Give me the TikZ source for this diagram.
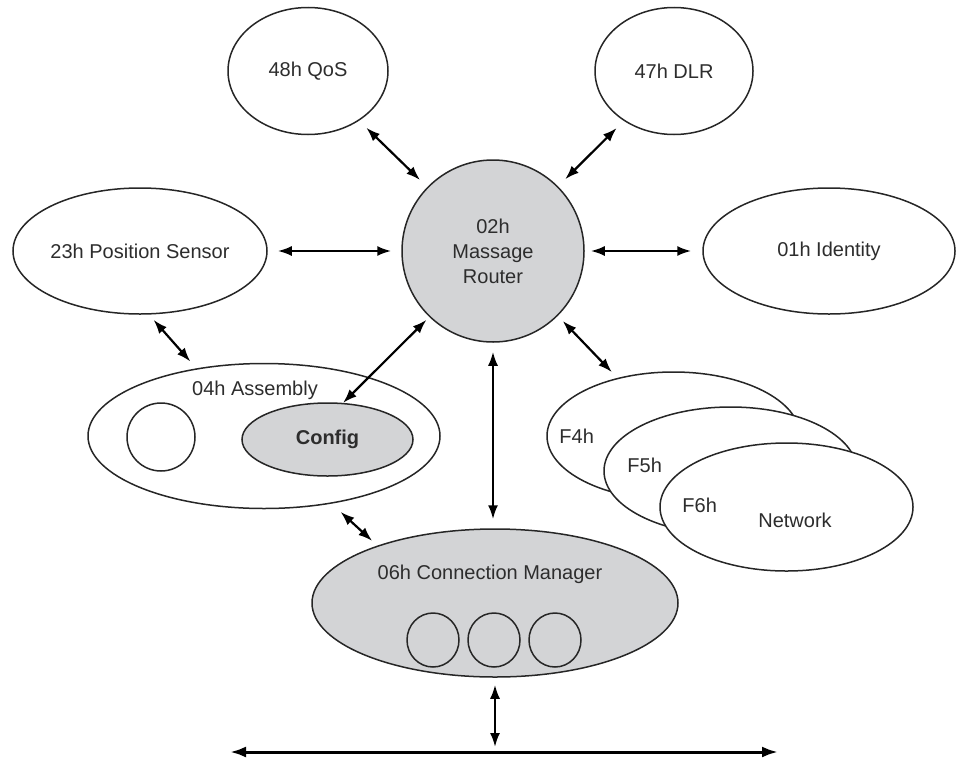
\documentclass[tikz,border=0pt]{standalone}
\usepackage{fontspec}
\setmainfont{Liberation Sans}
\usetikzlibrary{shapes.geometric,arrows.meta}
\definecolor{cipgray}{RGB}{211,212,214}
\definecolor{txt}{RGB}{45,45,45}
\begin{document}
\begin{tikzpicture}[x=0.5pt,y=-0.5pt,
  every node/.style={font=\fontsize{10pt}{12.5pt}\selectfont, text=txt},
  obj/.style={ellipse, draw=black!85, line width=0.75pt, fill=white, inner sep=0pt},
  grayobj/.style={obj, fill=cipgray},
  port/.style={ellipse, draw=black!85, line width=0.75pt, inner sep=0pt},
  link/.style={line width=1.1pt, {Latex[length=7pt,width=5pt]}-{Latex[length=7pt,width=5pt]}, shorten <=5pt, shorten >=5pt},
  lbl/.style={inner sep=0pt}]
\useasboundingbox (0,0) rectangle (957,760);

% top objects
\node[obj, minimum width=80pt, minimum height=63.5pt] (qos) at (308,71) {48h QoS};
\node[obj, minimum width=79pt, minimum height=63.5pt] (dlr) at (674,71) {47h DLR};
\node[grayobj, circle, minimum size=91pt, align=center] (router) at (493,251) {02h\\Massage\\Router};
\node[obj, minimum width=127pt, minimum height=63pt] (pos) at (140,251) {23h Position Sensor};
\node[obj, minimum width=126pt, minimum height=63pt] (ident) at (829,251) {01h Identity};

% network objects
\node[obj, minimum width=126.5pt, minimum height=64pt] (f4) at (673.5,436) {};
\node[lbl, anchor=base west] (f4t) at (559,443) {F4h};
\node[obj, minimum width=126.5pt, minimum height=64pt] (f5) at (730.5,471) {};
\node[lbl, anchor=base west] (f5t) at (627,472) {F5h};
\node[obj, minimum width=126.5pt, minimum height=64pt] (f6) at (786.5,507) {};
\node[lbl, anchor=base west] (f6t) at (682,512) {F6h};
\node[lbl, anchor=base] (net) at (795,527) {Network};

% assembly
\node[obj, minimum width=176pt, minimum height=72.5pt] (asm) at (264,436) {};
\node[lbl, anchor=base] (asmt) at (255,395) {04h Assembly};
\node[port, circle, minimum size=34pt] (asmc) at (161,437) {};
\node[grayobj, minimum width=85.5pt, minimum height=36.5pt, font=\fontsize{10pt}{12pt}\selectfont\bfseries] (config) at (327.5,439.5) {Config};

% connection manager
\node[grayobj, minimum width=183pt, minimum height=74pt] (cm) at (495,603) {};
\node[lbl, anchor=base] (cmt) at (490,579) {06h Connection Manager};
\node[port, minimum width=26pt, minimum height=27pt] (c1) at (433,640) {};
\node[port, minimum width=26pt, minimum height=27pt] (c2) at (494,640) {};
\node[port, minimum width=26pt, minimum height=27pt] (c3) at (555,640) {};

% bus
\coordinate (busL) at (230,752);
\coordinate (busR) at (778,752);

% connectors
\draw[link] (qos) -- (router);
\draw[link] (dlr) -- (router);
\draw[link] (pos.east) -- (router.west);
\draw[link, shorten <=3pt, shorten >=5.5pt] (router.east) -- (ident.west);
\draw[link, shorten <=3.5pt, shorten >=4.5pt] (pos.-82.7) -- (asm.135);
\draw[link, shorten <=2pt, shorten >=0pt] (router.226) -- (config.67.5);
\draw[link, shorten <=3.5pt, shorten >=4pt] (router.-45) -- (f4.134);
\draw[link, shorten <=4.5pt, shorten >=4.5pt] (router.south) -- (router.south |- cm.north);
\draw[link, shorten <=6pt, shorten >=3.5pt] (asm.-45) -- (cm.154.4);
\draw[link, shorten <=3.5pt, shorten >=2.5pt] (cm.south) -- (cm.south |- busL);
\draw[line width=1.5pt, {Latex[length=8pt,width=5.5pt]}-{Latex[length=8pt,width=5.5pt]}] (busL) -- (busR);
\end{tikzpicture}
\end{document}
